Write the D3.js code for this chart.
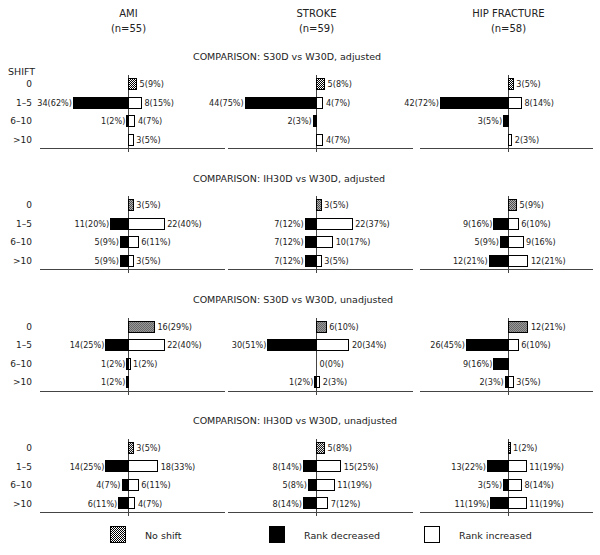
<!DOCTYPE html>
<html>
<head>
<meta charset="utf-8">
<script src="https://cdn.jsdelivr.net/npm/d3@7"></script>
<style>
  body { margin: 0; background: #fff; }
  svg text { font-family: "DejaVu Sans", sans-serif; fill: #222; }
  svg text.val { font-family: "DejaVu Sans Condensed", "DejaVu Sans", sans-serif; font-stretch: condensed; }
</style>
</head>
<body>
<svg id="chart" width="600" height="555"></svg>
<script>
// groups and sizes
const columns = ['AMI', 'STROKE', 'HIP FRACTURE'];
const sampleSizes = [55, 59, 58];
const comparisons = [
  'COMPARISON: S30D vs W30D, adjusted',
  'COMPARISON: IH30D vs W30D, adjusted',
  'COMPARISON: S30D vs W30D, unadjusted',
  'COMPARISON: IH30D vs W30D, unadjusted'
];
const shiftLabels = ['0', '1–5', '6–10', '>10'];

// counts with no shift, per comparison then column
const noShift = [[5, 5, 3], [3, 3, 5], [16, 6, 12], [3, 5, 1]];
// rank decreased, rows 1-5, 6-10, >10
const decreased = [
  [[34, 1, 0], [44, 2, 0], [42, 3, 0]],
  [[11, 5, 5], [7, 7, 7], [9, 5, 12]],
  [[14, 1, 1], [30, 0, 1], [26, 9, 2]],
  [[14, 4, 6], [8, 5, 8], [13, 3, 11]]
];
// rank increased, rows 1-5, 6-10, >10
const increased = [
  [[8, 4, 3], [4, 0, 4], [8, 0, 2]],
  [[22, 6, 3], [22, 10, 3], [6, 9, 12]],
  [[22, 1, 0], [20, 0, 2], [6, 0, 3]],
  [[18, 6, 4], [15, 11, 7], [11, 8, 11]]
];
const legendLabels = ['No shift', 'Rank decreased', 'Rank increased'];

const svg = d3.select('#chart');

// layout
const axisX = [128.5, 316.5, 508.5];
const panelLeft = [40, 228, 420];
const panelRight = [225, 413, 593];
const x = d3.scaleLinear().domain([0, 10]).range([0, 16.2]);
const panelY = d3.scaleLinear().domain([0, 1]).range([57, 178.3]);
const rowY = d3.scalePoint().domain(shiftLabels).range([27, 82.5]);
const barH = 11;

// checker pattern for "no shift"
const pat = svg.append('defs').append('pattern')
  .attr('id', 'checker').attr('width', 2).attr('height', 2)
  .attr('patternUnits', 'userSpaceOnUse');
pat.append('rect').attr('width', 2).attr('height', 2).attr('fill', '#fff');
pat.append('rect').attr('width', 1).attr('height', 1).attr('fill', '#000');
pat.append('rect').attr('x', 1).attr('y', 1).attr('width', 1).attr('height', 1).attr('fill', '#000');

const pctLabel = (v, n) => `${v}(${Math.round(v / n * 100)}%)`;

// column headers
columns.forEach((c, j) => {
  svg.append('text').attr('x', axisX[j]).attr('y', 13).attr('dy', '0.35em')
    .attr('text-anchor', 'middle').attr('font-size', 10).text(c);
  svg.append('text').attr('x', axisX[j]).attr('y', 28).attr('dy', '0.35em')
    .attr('text-anchor', 'middle').attr('font-size', 10).text(`(n=${sampleSizes[j]})`);
});

svg.append('text').attr('x', 8).attr('y', 72).attr('dy', '0.35em')
  .attr('font-size', 9.5).text('SHIFT');

comparisons.forEach((title, i) => {
  const top = panelY(i);
  const g = svg.append('g').attr('transform', `translate(0,${top})`);

  g.append('text').attr('x', 193).attr('y', 0).attr('dy', '0.35em')
    .attr('font-size', 9.5).text(title);

  // row labels
  g.selectAll('.rowlab').data(shiftLabels).join('text')
    .attr('x', 32).attr('y', d => rowY(d)).attr('dy', '0.35em')
    .attr('text-anchor', 'end').attr('font-size', 9).text(d => d);

  columns.forEach((c, j) => {
    const ax = axisX[j], n = sampleSizes[j];
    const col = g.append('g').attr('shape-rendering', 'crispEdges');

    col.append('line').attr('x1', panelLeft[j]).attr('x2', panelRight[j])
      .attr('y1', 91.5).attr('y2', 91.5).attr('stroke', '#444');
    col.append('line').attr('x1', ax).attr('x2', ax)
      .attr('y1', 18).attr('y2', 95).attr('stroke', '#444');

    // no shift bar
    const ns = noShift[i][j];
    const y0 = rowY(shiftLabels[0]);
    col.append('rect').attr('x', ax).attr('y', y0 - barH / 2)
      .attr('width', x(ns)).attr('height', barH)
      .attr('fill', 'url(#checker)').attr('stroke', '#000');
    g.append('text').attr('class', 'val').attr('x', ax + x(ns) + 3).attr('y', y0).attr('dy', '0.35em')
      .attr('font-size', 9).text(pctLabel(ns, n));

    shiftLabels.slice(1).forEach((lab, k) => {
      const y = rowY(lab);
      const dv = decreased[i][j][k], iv = increased[i][j][k];
      if (dv > 0) {
        col.append('rect').attr('x', ax - x(dv)).attr('y', y - barH / 2)
          .attr('width', x(dv)).attr('height', barH)
          .attr('fill', '#000').attr('stroke', '#000');
        g.append('text').attr('class', 'val').attr('x', ax - x(dv) - 1.5).attr('y', y).attr('dy', '0.35em')
          .attr('text-anchor', 'end').attr('font-size', 9).text(pctLabel(dv, n));
      }
      if (iv > 0) {
        col.append('rect').attr('x', ax).attr('y', y - barH / 2)
          .attr('width', x(iv)).attr('height', barH)
          .attr('fill', '#fff').attr('stroke', '#000');
      }
      if (iv > 0 || dv === 0) {
        g.append('text').attr('class', 'val').attr('x', ax + x(iv) + 3).attr('y', y).attr('dy', '0.35em')
          .attr('font-size', 9).text(pctLabel(iv, n));
      }
    });
  });
});

// legend
const legX = [110, 269, 424];
const legFill = ['url(#checker)', '#000', '#fff'];
legendLabels.forEach((lab, i) => {
  svg.append('rect').attr('x', legX[i]).attr('y', 526).attr('width', 15).attr('height', 16)
    .attr('fill', legFill[i]).attr('stroke', '#000').attr('shape-rendering', 'crispEdges');
  svg.append('text').attr('x', legX[i] + 35).attr('y', 536).attr('dy', '0.35em')
    .attr('font-size', 9.5).text(lab);
});
</script>
</body>
</html>
